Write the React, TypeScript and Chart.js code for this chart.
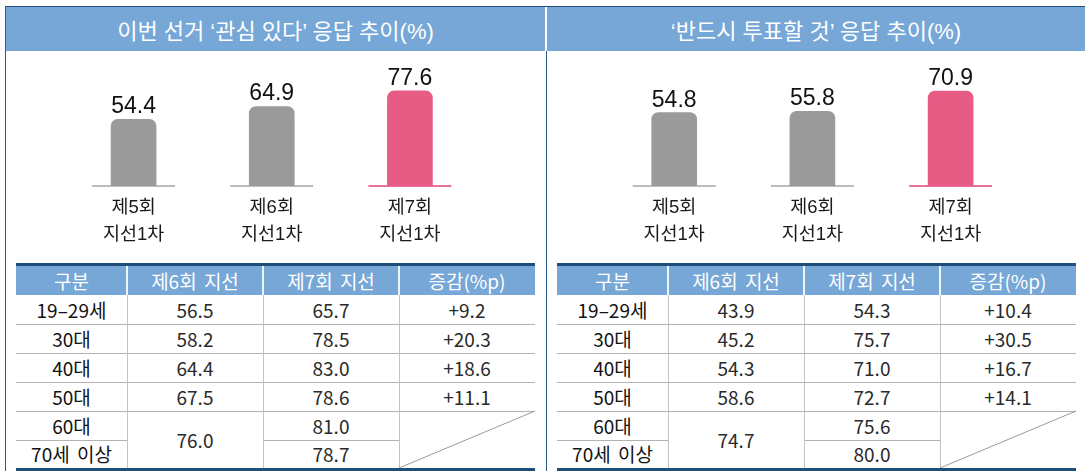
import React, { useEffect, useRef } from 'react';
import { Chart, registerables } from 'chart.js';

Chart.register(...registerables);

const FONT = '"Liberation Sans", "Noto Sans CJK KR", sans-serif';
const TABLE_FONT = '"Noto Sans CJK KR", "Liberation Sans", sans-serif';

// ---- data ----
const electionLabels: string[][] = [
  ['제5회', '지선1차'],
  ['제6회', '지선1차'],
  ['제7회', '지선1차'],
];
const interestValues = [54.4, 64.9, 77.6];
const voteValues = [54.8, 55.8, 70.9];
const barColors = ['#9a9a9a', '#9a9a9a', '#e65c85'];
const baseColors = ['#bcbcbc', '#bcbcbc', '#e9739a'];

const interestTitle = '이번 선거 ‘관심 있다’ 응답 추이(%)';
const voteTitle = '‘반드시 투표할 것’ 응답 추이(%)';

const tableHeaders = ['구분', '제6회 지선', '제7회 지선', '증감(%p)'];
const ageGroups = ['19–29세', '30대', '40대', '50대', '60대', '70세 이상'];
const interest6th = [56.5, 58.2, 64.4, 67.5, 76.0]; // last value covers 60대 + 70세 이상
const interest7th = [65.7, 78.5, 83.0, 78.6, 81.0, 78.7];
const interestDiff = ['+9.2', '+20.3', '+18.6', '+11.1'];
const vote6th = [43.9, 45.2, 54.3, 58.6, 74.7];
const vote7th = [54.3, 75.7, 71.0, 72.7, 75.6, 80.0];
const voteDiff = ['+10.4', '+30.5', '+16.7', '+14.1'];

const NAVY = '#1f4e79';
const BLUE = '#76a7d6';

const barDecor = {
  id: 'barDecor',
  beforeDatasetsDraw(chart: any) {
    const ctx = chart.ctx;
    const meta = chart.getDatasetMeta(0);
    meta.data.forEach((bar: any, i: number) => {
      const { x, base } = bar.getProps(['x', 'base'], true);
      ctx.save();
      ctx.strokeStyle = baseColors[i];
      ctx.lineWidth = 2;
      ctx.beginPath();
      ctx.moveTo(x - 41.5, base);
      ctx.lineTo(x + 41.5, base);
      ctx.stroke();
      ctx.restore();
    });
  },
  afterDatasetsDraw(chart: any) {
    const ctx = chart.ctx;
    const meta = chart.getDatasetMeta(0);
    const data = chart.data.datasets[0].data;
    meta.data.forEach((bar: any, i: number) => {
      const { x, y } = bar.getProps(['x', 'y'], true);
      ctx.save();
      ctx.fillStyle = '#111';
      ctx.font = '23px "Liberation Sans", sans-serif';
      ctx.textAlign = 'center';
      ctx.textBaseline = 'alphabetic';
      ctx.fillText(Number(data[i]).toFixed(1), x, y - 6);
      ctx.restore();
    });
  },
};

function BarChart(props: { values: number[]; max: number; left: number; width: number; padLeft: number; padRight: number }) {
  const ref = useRef<HTMLCanvasElement>(null);
  useEffect(() => {
    if (!ref.current) return;
    const chart = new Chart(ref.current, {
      type: 'bar',
      data: {
        labels: electionLabels,
        datasets: [
          {
            data: props.values,
            backgroundColor: barColors,
            borderRadius: { topLeft: 7, topRight: 7, bottomLeft: 0, bottomRight: 0 },
            borderSkipped: 'bottom',
            barThickness: 45,
          },
        ],
      },
      options: {
        animation: false,
        responsive: false,
        maintainAspectRatio: false,
        events: [],
        layout: { padding: { left: props.padLeft, right: props.padRight, top: 11.5, bottom: 0 } },
        plugins: { legend: { display: false }, tooltip: { enabled: false } },
        scales: {
          y: { display: false, min: 0, max: props.max },
          x: {
            grid: { display: false, drawTicks: false },
            border: { display: false },
            ticks: {
              color: '#1a1a1a',
              padding: 8.5,
              font: { family: FONT, size: 18.5, lineHeight: 27 / 18.5 },
            },
            afterFit: (scale: any) => {
              scale.height = 69;
            },
          },
        },
      },
      plugins: [barDecor],
    });
    return () => chart.destroy();
  }, []);
  return (
    <canvas
      ref={ref}
      width={props.width}
      height={203}
      style={{ position: 'absolute', left: props.left, top: 52, width: props.width, height: 203 }}
    />
  );
}

function DataTable(props: { left: number; v6: number[]; v7: number[]; diff: string[] }) {
  const colX = [0, 111, 247, 383, 519];
  const rowY = [32, 61, 90, 119, 148, 177, 205];
  const top = 263;
  const cells: any[] = [];
  const cell = (key: string, c0: number, c1: number, r0: number, r1: number, text: string, color = '#222') => {
    cells.push(
      <div
        key={key}
        style={{
          position: 'absolute',
          left: colX[c0],
          width: colX[c1] - colX[c0],
          top: rowY[r0],
          height: rowY[r1] - rowY[r0],
          display: 'flex',
          alignItems: 'center',
          justifyContent: 'center',
          fontSize: 19,
          lineHeight: '20px',
          color,
          whiteSpace: 'nowrap',
          wordSpacing: 3,
        }}
      >
        {text}
      </div>
    );
  };
  for (let r = 0; r < 6; r++) cell('a' + r, 0, 1, r, r + 1, ageGroups[r], '#111');
  for (let r = 0; r < 4; r++) cell('b' + r, 1, 2, r, r + 1, props.v6[r].toFixed(1), '#2a2a2a');
  cell('b4', 1, 2, 4, 6, props.v6[4].toFixed(1), '#2a2a2a');
  for (let r = 0; r < 6; r++) cell('c' + r, 2, 3, r, r + 1, props.v7[r].toFixed(1), '#2a2a2a');
  for (let r = 0; r < 4; r++) cell('d' + r, 3, 4, r, r + 1, props.diff[r], '#2a2a2a');

  const lines: any[] = [];
  [1, 2, 3, 4].forEach((r) =>
    lines.push(
      <div key={'h' + r} style={{ position: 'absolute', left: 0, width: 519, top: rowY[r], height: 1, background: '#b3b3b3' }} />
    )
  );
  [[0, 1], [2, 3]].forEach(([c0, c1]) =>
    lines.push(
      <div
        key={'hm' + c0}
        style={{ position: 'absolute', left: colX[c0], width: colX[c1] - colX[c0], top: rowY[5], height: 1, background: '#b3b3b3' }}
      />
    )
  );
  [1, 2, 3].forEach((c) => {
    lines.push(<div key={'v' + c} style={{ position: 'absolute', left: colX[c], width: 1, top: 32, height: 173, background: '#c4c4c4' }} />);
  });

  return (
    <div style={{ position: 'absolute', left: props.left, top, width: 519, height: 208, fontFamily: TABLE_FONT }}>
      <div style={{ position: 'absolute', left: 0, top: 0, width: 519, height: 3, background: NAVY }} />
      <div style={{ position: 'absolute', left: 0, top: 3, width: 519, height: 29, background: BLUE }} />
      {tableHeaders.map((h, i) => (
        <div
          key={'th' + i}
          style={{
            position: 'absolute',
            left: colX[i],
            width: colX[i + 1] - colX[i],
            top: 3,
            height: 29,
            display: 'flex',
            alignItems: 'center',
            justifyContent: 'center',
            color: '#fff',
            fontSize: 19,
            lineHeight: '20px',
            wordSpacing: 3,
            whiteSpace: 'nowrap',
          }}
        >
          {h}
        </div>
      ))}
      {[1, 2, 3].map((c) => (
        <div key={'tv' + c} style={{ position: 'absolute', left: colX[c] - 1, width: 2, top: 3, height: 29, background: '#eef4fb' }} />
      ))}
      {lines}
      {cells}
      <svg style={{ position: 'absolute', left: 0, top: 0 }} width={519} height={208}>
        <line x1={383} y1={205} x2={519} y2={148} stroke="#9a9a9a" strokeWidth={1} />
      </svg>
      <div style={{ position: 'absolute', left: 0, top: 205, width: 519, height: 3, background: NAVY }} />
    </div>
  );
}

export default function App() {
  const headerText = (left: number, width: number, text: string) => (
    <div
      style={{
        position: 'absolute',
        left,
        width,
        top: 7,
        height: 44,
        background: BLUE,
        color: '#fff',
        fontFamily: FONT,
        fontSize: 22,
        display: 'flex',
        alignItems: 'center',
        justifyContent: 'center',
        whiteSpace: 'nowrap',
      }}
    >
      {text}
    </div>
  );
  return (
    <div style={{ position: 'absolute', left: 0, top: 0, width: 1085, height: 471, background: '#fff', overflow: 'hidden' }}>
      <div style={{ position: 'absolute', left: 5, top: 6, width: 1080, height: 1, background: NAVY }} />
      <div style={{ position: 'absolute', left: 5, top: 6, width: 1, height: 465, background: '#2c5d8a' }} />
      {headerText(6, 539, interestTitle)}
      {headerText(547, 538, voteTitle)}
      <div style={{ position: 'absolute', left: 546, top: 51, width: 1, height: 420, background: '#2c5d8a' }} />
      <BarChart values={interestValues} max={100} left={5} width={540} padLeft={59.5} padRight={66} />
      <BarChart values={voteValues} max={91.4} left={546} width={539} padLeft={59.1} padRight={65.3} />
      <DataTable left={16} v6={interest6th} v7={interest7th} diff={interestDiff} />
      <DataTable left={557} v6={vote6th} v7={vote7th} diff={voteDiff} />
    </div>
  );
}
